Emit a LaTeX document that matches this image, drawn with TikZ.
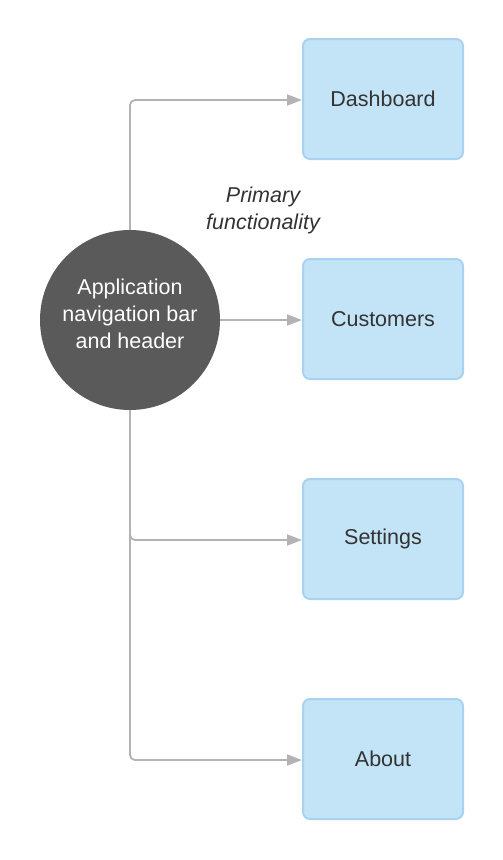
\documentclass[tikz,border=0pt]{standalone}
\usepackage{fontspec}
\setmainfont{Liberation Sans}
\usetikzlibrary{arrows.meta}
\definecolor{boxfill}{HTML}{C3E4F7}
\definecolor{boxline}{HTML}{A9D2F0}
\definecolor{circfill}{HTML}{5A5A5A}
\definecolor{conn}{HTML}{B3B3B3}
\definecolor{txt}{HTML}{333333}
\tikzset{
  navbox/.style={draw=boxline, line width=2pt, fill=boxfill, rounded corners=7pt,
    minimum width=160pt, minimum height=120pt, inner sep=0pt,
    font=\fontsize{21.5}{25}\selectfont, text=txt},
  hub/.style={circle, fill=circfill, minimum size=180pt, inner sep=0pt},
  hubtext/.style={font=\fontsize{21.5}{27}\selectfont, text=white, align=center, inner sep=0pt},
  link/.style={draw=conn, line width=1.8pt, rounded corners=5pt,
    -{Triangle[length=15pt,width=11pt]}},
}
\begin{document}
\begin{tikzpicture}[x=1pt,y=-1pt]
\useasboundingbox (0,0) rectangle (503,860);
\node[hub] (app) at (130,320) {};
\node[hubtext] (applbl) at (130,314) {Application\\navigation bar\\and header};
\node[navbox] (dash) at (383,99) {Dashboard};
\node[navbox] (cust) at (383,319) {Customers};
\node[navbox] (sett) at (383,539) {Settings};
\node[navbox] (about) at (383,759) {About};
\node[font=\fontsize{21.5}{27}\selectfont\itshape, text=txt, align=center] (prim) at (263,210) {Primary\\functionality};
\draw[link] (app.north) |- (302,100);
\draw[link] (app.east) -- (302,320);
\draw[link] (app.south) |- (302,540);
\draw[link] (app.south) |- (302,760);
\end{tikzpicture}
\end{document}
